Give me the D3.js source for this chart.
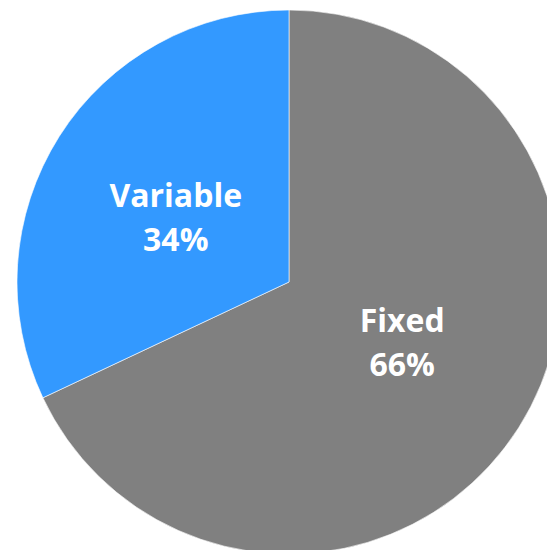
<!DOCTYPE html>
<meta charset="utf-8">
<script src="https://d3js.org/d3.v7.js"></script>
<style>
  body { margin: 0; background: #fff; }
</style>
<div id="chart"></div>
<script>

// slices as drawn (clockwise from 12 o'clock)
const categories = ["Fixed", "Variable"];
const shares = [68, 32];
// percentages printed on the labels
const pctValues = [66, 34];
const colours = ["#808080", "#3399FF"];

const width = 547, height = 550;
const cx = 289, cy = 282, radius = 272;

const svg = d3.select("#chart")
  .append("svg")
  .attr("width", width)
  .attr("height", height)
  .append("g")
    .attr("transform", `translate(${cx},${cy})`);

const data = categories.map((c, i) => ({name: c, value: shares[i], pct: pctValues[i], colour: colours[i]}));

const pie = d3.pie().sort(null).value(d => d.value);
const labelPie = d3.pie().sort(null).value(d => d.pct);
const arc = d3.arc().innerRadius(0).outerRadius(radius);
const labelArc = d3.arc().innerRadius(radius * 0.475).outerRadius(radius * 0.475);

svg.selectAll("path")
  .data(pie(data))
  .join("path")
    .attr("d", arc)
    .attr("fill", d => d.data.colour)
    .attr("stroke", "#fff")
    .attr("stroke-width", 0.6);

// labels: name on first line, percent below
const lab = svg.selectAll("text.lab")
  .data(labelPie(data))
  .join("text")
    .attr("class", "lab")
    .attr("transform", d => `translate(${labelArc.centroid(d)})`)
    .attr("text-anchor", "middle")
    .style("font-family", "'Open Sans', sans-serif")
    .style("font-weight", "bold")
    .style("font-size", "32px")
    .attr("fill", "#fff");

lab.append("tspan")
    .attr("x", 0)
    .attr("y", -12.5)
    .text(d => d.data.name);

lab.append("tspan")
    .attr("x", 0)
    .attr("y", 31.5)
    .text(d => d.data.pct + "%");

</script>
